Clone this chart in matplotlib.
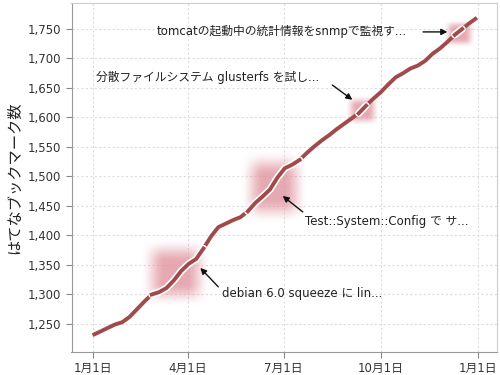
import numpy as np
import pandas as pd
import matplotlib
matplotlib.use("Agg")
import matplotlib.pyplot as plt
import matplotlib.dates as mdates

plt.rcParams['font.family'] = ['DejaVu Sans', 'Noto Sans CJK JP']

# ---- data (weekly bookmark counts, 2011) ----
dates = pd.date_range("2011-01-01", periods=53, freq="7D")
values = [1231, 1237, 1243, 1249, 1253, 1262, 1275, 1288, 1300, 1304,
          1311, 1324, 1340, 1352, 1360, 1378, 1398, 1414, 1420, 1426,
          1431, 1441, 1455, 1466, 1478, 1498, 1514, 1520, 1528, 1540,
          1551, 1561, 1570, 1580, 1589, 1598, 1607, 1620, 1632, 1643,
          1656, 1668, 1675, 1683, 1688, 1696, 1708, 1717, 1728, 1740,
          1750, 1760, 1769]

event_labels = ["debian 6.0 squeeze に lin...",
                "Test::System::Config で サ...",
                "分散ファイルシステム glusterfs を試し...",
                "tomcatの起動中の統計情報をsnmpで監視す..."]
event_start = ["2011-02-22", "2011-05-28", "2011-09-04", "2011-12-06"]
event_end = ["2011-04-16", "2011-07-17", "2011-09-23", "2011-12-23"]
# label anchor (date, value), arrow tail and head
label_pos = [("2011-05-04", 1302), ("2011-07-21", 1423),
             ("2011-01-04", 1667), ("2011-03-03", 1745)]
arrow_tail = [("2011-04-30", 1313), ("2011-07-19", 1440),
              ("2011-08-16", 1655), ("2011-11-10", 1745)]
arrow_head = [("2011-04-13", 1345), ("2011-06-30", 1467),
              ("2011-09-04", 1630), ("2011-12-03", 1745)]

xticks = pd.to_datetime(["2011-01-01", "2011-04-01", "2011-07-01",
                         "2011-10-01", "2012-01-01"])
xtick_labels = ["1月1日", "4月1日", "7月1日", "10月1日", "1月1日"]
yticks = [1250, 1300, 1350, 1400, 1450, 1500, 1550, 1600, 1650, 1700, 1750]

line_color = "#a04a4c"

fig = plt.figure(figsize=(5, 3.75), dpi=100)
ax = fig.add_axes([0.143, 0.0613, 0.851, 0.9307])

s = pd.Series(values, index=dates)

# soft highlight blobs
ny, nx = 80, 80
yy = np.linspace(0, 1, ny)[:, None]
xx = np.linspace(0, 1, nx)[None, :]
def edge(t):
    d = np.minimum(t, 1 - t) / 0.35
    d = np.clip(d, 0, 1)
    return d * d * (3 - 2 * d)
alpha = edge(yy) * edge(xx) * 0.8
img = np.zeros((ny, nx, 4))
img[..., 0] = 0.88
img[..., 1] = 0.58
img[..., 2] = 0.62
img[..., 3] = alpha

ax.plot(s.index, s.values, color=line_color, lw=2.8, solid_capstyle='butt', zorder=3)

for st, en in zip(event_start, event_end):
    st = pd.Timestamp(st); en = pd.Timestamp(en)
    inner = s[(s.index >= st) & (s.index <= en)]
    lo = inner.min() - 22
    hi = inner.max() + 16
    ax.imshow(img, extent=[mdates.date2num(st) - 7, mdates.date2num(en) + 7, lo, hi],
              aspect='auto', origin='lower', interpolation='bilinear', zorder=2)
    seg2 = s[(s.index >= st) & (s.index <= en)]
    if len(seg2) < 2:
        seg2 = s[(s.index >= st - pd.Timedelta(days=4)) & (s.index <= en + pd.Timedelta(days=4))]
    ax.plot(seg2.index, seg2.values, color='white', lw=5.2, zorder=4,
            solid_capstyle='round')
    ax.plot(seg2.index, seg2.values, color=line_color, lw=2.8, zorder=5)

for lab, lp, tl, hd in zip(event_labels, label_pos, arrow_tail, arrow_head):
    ax.text(pd.Timestamp(lp[0]), lp[1], lab, fontsize=8.5, color='#222222',
            ha='left', va='center', zorder=6)
    ax.annotate('', xy=(pd.Timestamp(hd[0]), hd[1]),
                xytext=(pd.Timestamp(tl[0]), tl[1]),
                arrowprops=dict(arrowstyle='-|>', color='#111111', lw=1.0,
                                mutation_scale=9, shrinkA=0, shrinkB=0),
                zorder=6)

ax.set_xlim(pd.Timestamp("2010-12-12"), pd.Timestamp("2012-01-19"))
ax.set_ylim(1202.5, 1794)
ax.set_xticks(xticks)
ax.set_xticklabels(xtick_labels)
ax.set_yticks(yticks)
ax.set_yticklabels([f"{v:,}" for v in yticks])
ax.tick_params(labelsize=8.5, colors='#333333', length=4, width=0.8)
ax.tick_params(axis='both', color='#888888')
ax.grid(True, color='#dddddd', linestyle=(0, (2, 2)), lw=0.8)
ax.set_axisbelow(True)
for sp in ['left', 'bottom']:
    ax.spines[sp].set_color('#999999')
for sp in ['top', 'right']:
    ax.spines[sp].set_color('#cccccc')
ax.set_ylabel("はてなブックマーク数", fontsize=11, color='#222222', labelpad=4)

fig.savefig("out.png", dpi=100)
